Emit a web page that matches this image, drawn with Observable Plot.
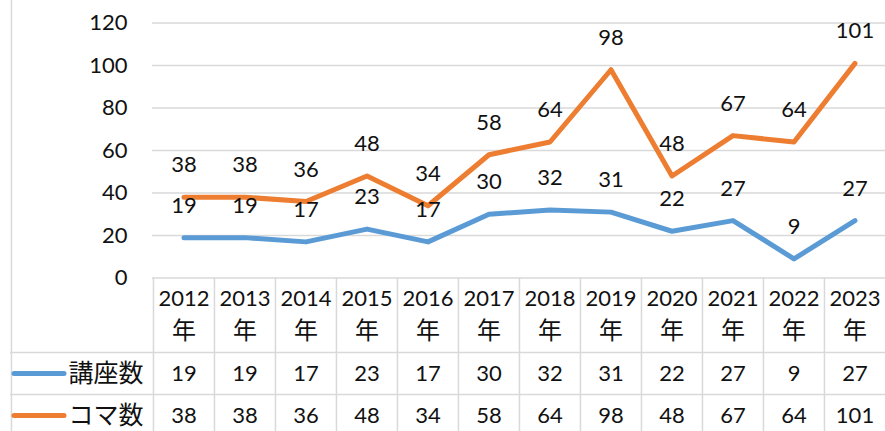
<!DOCTYPE html>
<html><head><meta charset="utf-8">
<script src="https://cdn.jsdelivr.net/npm/d3@7"></script>
<script src="https://cdn.jsdelivr.net/npm/@observablehq/plot@0.6"></script>
<style>
  html,body{margin:0;padding:0;background:#fff;}
</style>
</head><body><div id="chart"></div>
<script>
// ---- data ----
const years = ["2012","2013","2014","2015","2016","2017","2018","2019","2020","2021","2022","2023"];
const yearSuffix = "年";
const lectures = [19,19,17,23,17,30,32,31,22,27,9,27];      // 講座数
const sessions = [38,38,36,48,34,58,64,98,48,67,64,101];    // コマ数
const seriesNames = ["講座数","コマ数"];
const seriesColors = ["#5B9BD5","#ED7D31"];
const yTicks = [0,20,40,60,80,100,120];

// ---- layout ----
const W = 885, H = 431;
const mL = 152, mR = 0, mT = 22.5, mB = 153.5;
const bw = (W - mL - mR) / years.length;
const gridColor = "#d9d9d9";
const rowDy = [95.5, 137.5];       // table value rows below frame bottom
const rowLines = [74.5, 116.5];    // table horizontal separators below frame bottom
const leftEdge = 10;               // outer left border
const labelLeft = 68;

const seriesValues = [lectures, sessions];
const data = seriesNames.flatMap((s, k) =>
  years.map((y, i) => ({year: y, series: s, value: seriesValues[k][i]})));

const marks = [];
// horizontal gridlines (0 is the table top)
marks.push(Plot.ruleY(yTicks, {stroke: gridColor, strokeWidth: 1.5}));
// table column separators
marks.push(Plot.ruleX(years, {dx: -bw/2, insetTop: H - mT - mB, insetBottom: -mB, stroke: gridColor, strokeWidth: 1.5}));
// outer left border
marks.push(Plot.ruleX([years[0]], {dx: -bw/2 - (mL - leftEdge), insetTop: -mT, insetBottom: -mB, stroke: gridColor, strokeWidth: 1.5}));
// table row separators
for (const d of rowLines) {
  marks.push(Plot.ruleY([0], {dy: d, insetLeft: -(mL - leftEdge), stroke: gridColor, strokeWidth: 1.5}));
}
// lines
marks.push(Plot.line(data, {x: "year", y: "value", stroke: "series", z: "series",
  strokeWidth: 5, strokeLinejoin: "round", strokeLinecap: "round"}));
// data labels
marks.push(Plot.text(data, {x: "year", y: "value", text: d => String(d.value), dy: -32, fontSize: 22}));
// table header: years and 年
marks.push(Plot.text(years, {x: d => d, text: d => d, frameAnchor: "bottom",
  dy: 21, lineAnchor: "middle", fontSize: 22}));
marks.push(Plot.text(years, {x: d => d, text: () => yearSuffix, frameAnchor: "bottom",
  dy: 53, lineAnchor: "middle", fontSize: 24}));
// table value rows + legend
seriesNames.forEach((s, k) => {
  marks.push(Plot.text(data.filter(d => d.series === s), {x: "year", text: d => String(d.value),
    frameAnchor: "bottom", dy: rowDy[k], lineAnchor: "middle", fontSize: 22}));
  marks.push(Plot.ruleY([0], {dy: rowDy[k], insetLeft: -(mL - 14), insetRight: W - 64 - mR,
    stroke: seriesColors[k], strokeWidth: 5, strokeLinecap: "round"}));
  marks.push(Plot.text([s], {text: d => d, frameAnchor: "bottom-left", dx: labelLeft - mL, dy: rowDy[k],
    textAnchor: "start", lineAnchor: "middle", fontSize: 25}));
});

const chart = Plot.plot({
  width: W, height: H,
  marginLeft: mL, marginRight: mR, marginTop: mT, marginBottom: mB,
  style: {fontFamily: "Lato, 'Noto Sans CJK JP', sans-serif", fontSize: "22px", color: "#111", background: "#fff"},
  x: {type: "band", domain: years, padding: 0, axis: null},
  y: {domain: [0, 120], ticks: 6, tickSize: 0, tickPadding: 25, label: null},
  color: {domain: seriesNames, range: seriesColors},
  marks
});
document.getElementById("chart").appendChild(chart);
</script>
</body></html>
